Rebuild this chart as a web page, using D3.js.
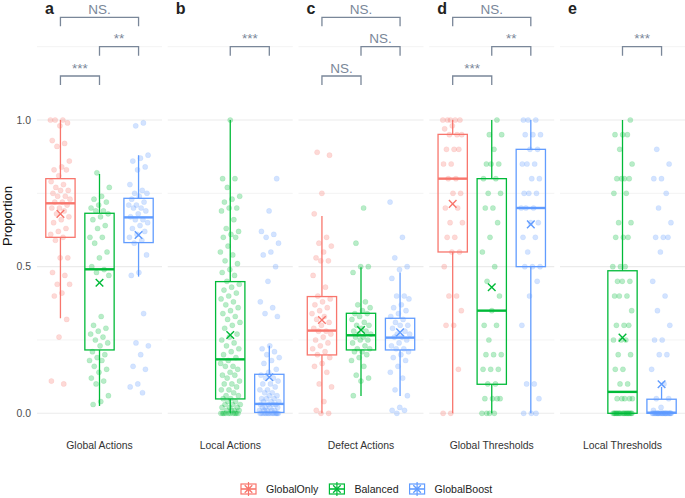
<!DOCTYPE html>
<html><head><meta charset="utf-8">
<script src="https://cdn.jsdelivr.net/npm/d3@7"></script>
<style>body{margin:0;background:#fff} svg{display:block;font-family:"Liberation Sans",Arial,sans-serif}</style>
</head><body>
<svg id="c" width="685" height="498"></svg>
<script>
const categories = ["Global Actions","Local Actions","Defect Actions","Global Thresholds","Local Thresholds"];
const panelLetters = ["a","b","c","d","e"];
const groups = ["GlobalOnly","Balanced","GlobalBoost"];
const colors = ["#F8766D","#00BA38","#619CFF"];
const yTicks = [0, 0.5, 1.0];
const yMinor = [0.25, 0.75, 1.25];

// box stats: [whiskerLow, q1, median, q3, whiskerHigh, mean]; null = group absent
const boxGlobalOnly = [[0.324,0.60,0.716,0.80,1.0,0.68], null, [0,0.199,0.282,0.398,0.673,0.318], [0,0.55,0.80,0.951,1.0,0.714], null];
const boxBalanced   = [[0.025,0.216,0.491,0.682,0.816,0.445], [0,0.049,0.184,0.449,1.0,0.267], [0.059,0.216,0.266,0.341,0.498,0.284], [0,0.099,0.35,0.80,1.0,0.43], [0,0,0.073,0.486,1.0,0.258]];
const boxGlobalBoost= [[0.466,0.582,0.668,0.733,0.88,0.608], [0,0.003,0.032,0.133,0.23,0.123], [0.059,0.216,0.258,0.324,0.48,0.276], [0,0.50,0.70,0.90,1.0,0.644], [0,0,0.002,0.048,0.09,0.099]];

const ptsGlobalOnly = [
 [1.0,1.0,1.0,0.99,0.98,0.93,0.92,0.91,0.86,0.84,0.83,0.83,0.81,0.79,0.78,0.77,0.76,0.76,0.75,0.74,0.74,0.73,0.72,0.72,0.71,0.70,0.70,0.69,0.68,0.67,0.66,0.65,0.63,0.62,0.61,0.60,0.59,0.53,0.53,0.48,0.47,0.44,0.44,0.41,0.40,0.32,0.26,0.11,0.10],
 [],
 [0.89,0.88,0.75,0.68,0.60,0.58,0.57,0.55,0.53,0.52,0.52,0.47,0.43,0.40,0.39,0.38,0.37,0.36,0.35,0.34,0.33,0.32,0.31,0.30,0.29,0.28,0.28,0.27,0.26,0.25,0.24,0.23,0.22,0.21,0.20,0.19,0.17,0.16,0.14,0.10,0.09,0.04,0.01,0.0,0.0],
 [1.0,1.0,1.0,1.0,1.0,0.98,0.97,0.95,0.95,0.95,0.90,0.90,0.90,0.85,0.85,0.80,0.80,0.75,0.75,0.70,0.70,0.65,0.65,0.60,0.60,0.55,0.55,0.50,0.40,0.40,0.35,0.30,0.30,0.15,0.0,0.0],
 []
];
const ptsBalanced = [
 [0.82,0.77,0.74,0.73,0.72,0.71,0.70,0.69,0.69,0.68,0.67,0.66,0.64,0.63,0.60,0.60,0.58,0.55,0.53,0.50,0.49,0.48,0.47,0.33,0.30,0.29,0.28,0.27,0.26,0.25,0.24,0.23,0.21,0.20,0.19,0.18,0.18,0.16,0.15,0.14,0.12,0.11,0.10,0.06,0.04,0.03],
 [1.0,0.80,0.80,0.77,0.74,0.73,0.72,0.70,0.70,0.69,0.66,0.63,0.62,0.61,0.60,0.60,0.57,0.55,0.54,0.52,0.51,0.49,0.48,0.47,0.45,0.44,0.43,0.42,0.41,0.40,0.39,0.38,0.37,0.36,0.35,0.34,0.33,0.32,0.31,0.30,0.29,0.27,0.26,0.25,0.24,0.23,0.22,0.21,0.20,0.19,0.18,0.17,0.16,0.16,0.15,0.14,0.13,0.13,0.12,0.11,0.10,0.10,0.09,0.08,0.08,0.07,0.06,0.06,0.05,0.05,0.04,0.04,0.03,0.03,0.03,0.02,0.02,0.02,0.01,0.01,0.01,0.01,0,0,0,0,0,0,0,0,0,0],
 [0.70,0.58,0.50,0.50,0.48,0.38,0.37,0.36,0.35,0.34,0.34,0.33,0.32,0.31,0.30,0.30,0.29,0.28,0.28,0.27,0.27,0.26,0.26,0.25,0.25,0.24,0.23,0.22,0.22,0.21,0.21,0.20,0.19,0.18,0.16,0.13,0.12,0.11,0.06],
 [1.0,0.95,0.95,0.90,0.85,0.85,0.85,0.80,0.80,0.75,0.75,0.70,0.70,0.65,0.60,0.55,0.50,0.45,0.40,0.35,0.30,0.30,0.25,0.20,0.20,0.20,0.15,0.15,0.15,0.10,0.10,0.05,0.05,0.05,0.05,0.0,0.0,0.0,0.0],
 [1.0,0.95,0.95,0.95,0.90,0.85,0.80,0.80,0.80,0.80,0.75,0.75,0.65,0.65,0.60,0.60,0.60,0.50,0.50,0.50,0.45,0.45,0.45,0.40,0.40,0.40,0.35,0.30,0.30,0.30,0.25,0.25,0.25,0.20,0.20,0.15,0.15,0.10,0.10,0.05,0.05,0.05,0.05,0.05,0,0,0,0,0,0,0,0,0,0,0,0,0,0,0,0,0,0,0,0]
];
const ptsGlobalBoost = [
 [0.99,0.98,0.88,0.87,0.86,0.84,0.83,0.78,0.76,0.75,0.75,0.74,0.73,0.72,0.71,0.71,0.70,0.70,0.69,0.68,0.67,0.66,0.66,0.65,0.64,0.63,0.62,0.61,0.60,0.59,0.58,0.54,0.48,0.47,0.34,0.24,0.23,0.20,0.16,0.15,0.10,0.09,0.07],
 [0.80,0.69,0.62,0.61,0.60,0.58,0.55,0.54,0.50,0.45,0.38,0.36,0.34,0.33,0.23,0.22,0.21,0.20,0.19,0.18,0.17,0.15,0.14,0.13,0.12,0.12,0.11,0.10,0.10,0.09,0.08,0.08,0.07,0.07,0.06,0.06,0.05,0.05,0.05,0.04,0.04,0.04,0.03,0.03,0.03,0.03,0.02,0.02,0.02,0.02,0.01,0.01,0.01,0.01,0.01,0,0,0,0,0,0,0,0,0,0,0,0,0,0],
 [0.72,0.60,0.53,0.50,0.49,0.46,0.40,0.40,0.39,0.37,0.36,0.35,0.34,0.33,0.32,0.31,0.30,0.30,0.29,0.28,0.27,0.27,0.26,0.26,0.25,0.24,0.23,0.22,0.22,0.21,0.20,0.19,0.18,0.16,0.14,0.12,0.08,0.06,0.02,0.01,0.01,0.0],
 [1.0,1.0,1.0,0.95,0.95,0.95,0.90,0.90,0.85,0.85,0.85,0.80,0.80,0.75,0.75,0.75,0.70,0.70,0.70,0.65,0.65,0.60,0.60,0.55,0.50,0.50,0.50,0.45,0.40,0.30,0.10,0.10,0.05,0.0,0.0,0.0],
 [0.90,0.85,0.80,0.80,0.75,0.70,0.65,0.60,0.60,0.60,0.55,0.45,0.40,0.35,0.30,0.25,0.25,0.20,0.20,0.15,0.10,0.05,0.05,0.02,0.01,0,0,0,0,0,0,0,0,0,0,0,0,0,0,0,0,0,0,0,0,0,0,0,0,0]
];

// significance comparisons: [groupA, groupB, height, label]
const comparisons = [
 [[0,1,1.15,"***"],[1,2,1.25,"**"],[0,2,1.35,"NS."]],
 [[1,2,1.25,"***"]],
 [[0,1,1.15,"NS."],[1,2,1.25,"NS."],[0,2,1.35,"NS."]],
 [[0,1,1.15,"***"],[1,2,1.25,"**"],[0,2,1.35,"NS."]],
 [[1,2,1.25,"***"]]
];

const boxes = [boxGlobalOnly, boxBalanced, boxGlobalBoost];
const pts = [ptsGlobalOnly, ptsBalanced, ptsGlobalBoost];

const svg = d3.select("#c");
const panel = d3.scaleBand().domain(categories).range([37, 685]).paddingInner(0.044).paddingOuter(0);
const y = d3.scaleLinear().domain([0, 1]).range([413.3, 120]);
const xIn = d3.scalePoint().domain(groups).range([0, panel.bandwidth()]).padding(0.6);
const step = xIn.step();
const boxW = 0.75 * step;

const gridCol = "#ebebeb";
const sigCol = "#7a8799";

categories.forEach((cat, p) => {
  const g = svg.append("g").attr("transform", `translate(${panel(cat)},0)`);
  const w = panel.bandwidth();
  yMinor.forEach(v => g.append("line").attr("x1",0).attr("x2",w).attr("y1",y(v)).attr("y2",y(v)).attr("stroke",gridCol).attr("stroke-width",0.6));
  yTicks.forEach(v => g.append("line").attr("x1",0).attr("x2",w).attr("y1",y(v)).attr("y2",y(v)).attr("stroke",gridCol).attr("stroke-width",1.1));

  groups.forEach((grp, gi) => {
    const cx = xIn(grp);
    const col = colors[gi];
    const st = boxes[gi][p];
    if (st) {
      const [wl,q1,md,q3,wh,mn] = st;
      g.append("line").attr("x1",cx).attr("x2",cx).attr("y1",y(wh)).attr("y2",y(q3)).attr("stroke",col).attr("stroke-width",1.3);
      g.append("line").attr("x1",cx).attr("x2",cx).attr("y1",y(q1)).attr("y2",y(wl)).attr("stroke",col).attr("stroke-width",1.3);
      g.append("rect").attr("x",cx-boxW/2).attr("width",boxW).attr("y",y(q3)).attr("height",Math.max(0.5,y(q1)-y(q3)))
        .attr("fill","none").attr("stroke",col).attr("stroke-width",1.3);
      g.append("line").attr("x1",cx-boxW/2).attr("x2",cx+boxW/2).attr("y1",y(md)).attr("y2",y(md)).attr("stroke",col).attr("stroke-width",2.4);
    }
    const vals = pts[gi][p];
    g.selectAll(null).data(vals).enter().append("circle")
      .attr("cx",(d,i)=> cx + ((((i*0.6180339887 + gi*0.37 + p*0.13) % 1) - 0.5) * 20))
      .attr("cy",d=>y(d)).attr("r",2.6)
      .attr("fill",col).attr("fill-opacity",0.28)
      .attr("stroke",col).attr("stroke-opacity",0.18).attr("stroke-width",0.6);
    if (st) {
      const mx = cx, my = y(st[5]), s = 3.8;
      g.append("path").attr("d",`M${mx-s},${my-s}L${mx+s},${my+s}M${mx-s},${my+s}L${mx+s},${my-s}`)
        .attr("stroke",col).attr("stroke-width",1.4).attr("fill","none");
    }
  });

  comparisons[p].forEach(([a,b,h,lab]) => {
    const x1 = xIn(groups[a]), x2 = xIn(groups[b]), yy = y(h), t = 9;
    g.append("path").attr("d",`M${x1},${yy+t}V${yy}H${x2}V${yy+t}`).attr("fill","none").attr("stroke",sigCol).attr("stroke-width",1.3);
    g.append("text").attr("x",(x1+x2)/2).attr("y",yy-3.5).attr("text-anchor","middle").attr("font-size",13.5).attr("fill",sigCol).text(lab);
  });

  g.append("text").attr("x",8).attr("y",14).attr("font-size",16).attr("font-weight","bold").attr("fill","#222").text(panelLetters[p]);
  g.append("text").attr("x",w/2).attr("y",448.5).attr("text-anchor","middle").attr("font-size",10.4).attr("fill","#333").text(cat);
});

// y axis labels
yTicks.forEach(v => svg.append("text").attr("x",31).attr("y",y(v)+3.7).attr("text-anchor","end").attr("font-size",10.4).attr("fill","#4d4d4d").text(d3.format(".1f")(v)));
svg.append("text").attr("transform","translate(11.5,216) rotate(-90)").attr("text-anchor","middle").attr("font-size",13).attr("fill","#111").text("Proportion");

// legend
let lx = 240; const ly = 489;
groups.forEach((grp, gi) => {
  const col = colors[gi];
  const cx = lx + 8.5;
  const lg = svg.append("g");
  lg.append("line").attr("x1",cx).attr("x2",cx).attr("y1",ly-7).attr("y2",ly+7).attr("stroke",col).attr("stroke-width",1.2);
  lg.append("rect").attr("x",cx-7.5).attr("y",ly-5).attr("width",15).attr("height",10).attr("fill","#fff").attr("stroke",col).attr("stroke-width",1.2);
  lg.append("line").attr("x1",cx-7.5).attr("x2",cx+7.5).attr("y1",ly).attr("y2",ly).attr("stroke",col).attr("stroke-width",1.6);
  lg.append("line").attr("x1",cx).attr("x2",cx).attr("y1",ly-5).attr("y2",ly+5).attr("stroke",col).attr("stroke-width",1.2);
  lg.append("circle").attr("cx",cx).attr("cy",ly).attr("r",2.6).attr("fill",col).attr("fill-opacity",0.3);
  lg.append("path").attr("d",`M${cx-3.8},${ly-3.8}L${cx+3.8},${ly+3.8}M${cx-3.8},${ly+3.8}L${cx+3.8},${ly-3.8}`).attr("stroke",col).attr("stroke-width",1.3);
  const t = svg.append("text").attr("x",lx+26).attr("y",ly+3.8).attr("font-size",10.6).attr("fill","#222").text(grp);
  lx = lx + 26 + t.node().getComputedTextLength() + 10;
});
</script>
</body></html>
